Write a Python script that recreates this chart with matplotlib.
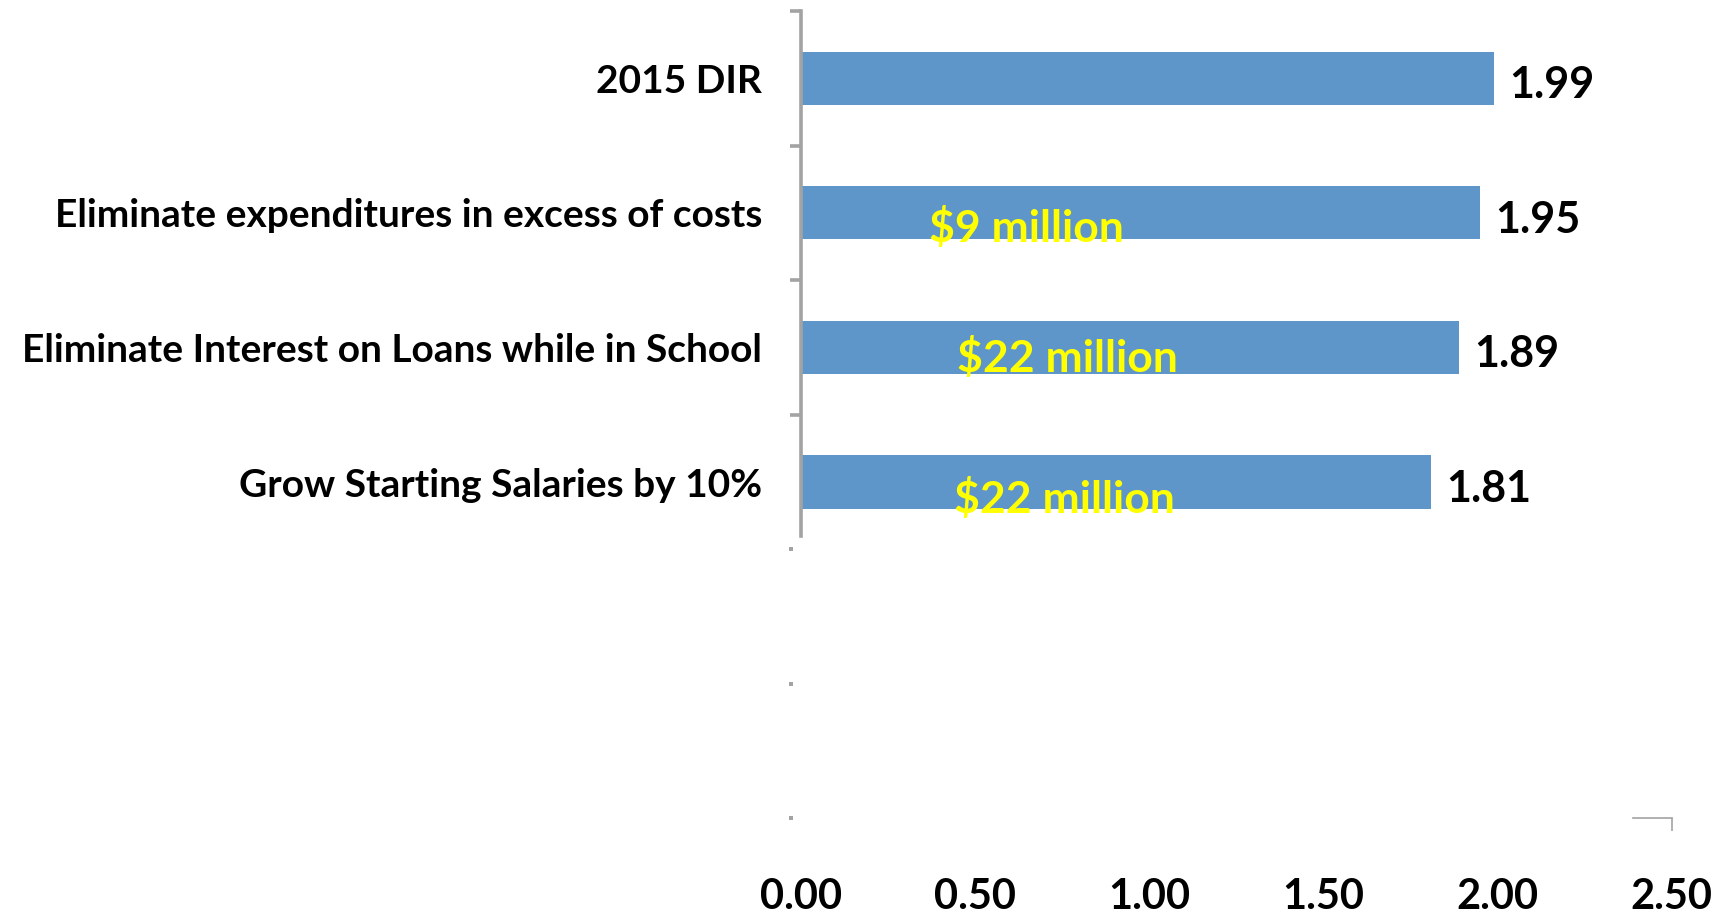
import matplotlib
matplotlib.use("Agg")
import matplotlib.pyplot as plt
from matplotlib.ticker import FixedLocator

# ---- data ----
categories = [
    "2015 DIR",
    "Eliminate expenditures in excess of costs",
    "Eliminate Interest on Loans while in School",
    "Grow Starting Salaries by 10%",
]
values = [1.99, 1.95, 1.89, 1.81]
savings = [None, "$9 million", "$22 million", "$22 million"]
x_ticks = [0.0, 0.5, 1.0, 1.5, 2.0, 2.5]
n_slots = 6  # category slots on the vertical axis (last two empty)

# ---- style ----
plt.rcParams["font.family"] = ["Lato", "DejaVu Sans"]
plt.rcParams["font.weight"] = "bold"
BAR = "#5F96C9"
AXIS_GREY = "#A3A3A3"

fig = plt.figure(figsize=(17.3, 9.14), dpi=100)
ax = fig.add_axes([0.463, 0.1045, 0.5032, 0.8835])

pos = list(range(len(categories)))
ax.barh(pos, values, height=0.395, color=BAR, zorder=2)

ax.set_xlim(0, 2.5)
ax.set_ylim(n_slots - 0.5, -0.5)

# spines
for s in ("top", "right"):
    ax.spines[s].set_visible(False)
ax.spines["left"].set_color(AXIS_GREY)
ax.spines["left"].set_linewidth(2.6)
ax.spines["left"].set_bounds(-0.5, 3.4)
ax.spines["bottom"].set_color(AXIS_GREY)
ax.spines["bottom"].set_linewidth(1.2)
ax.spines["bottom"].set_bounds(2.39, 2.5)

# y axis: labels at category centres, tick marks at slot boundaries
ax.set_yticks(pos)
ax.set_yticklabels(categories, fontsize=28, fontweight="bold")
ax.tick_params(axis="y", which="major", length=0, pad=28)
ax.yaxis.set_minor_locator(FixedLocator([-0.5, 0.5, 1.5, 2.5]))
ax.tick_params(axis="y", which="minor", length=8, width=2.6,
               color=AXIS_GREY, direction="out")

# faint stub marks on the remaining slot boundaries
stub_tr = ax.get_yaxis_transform()
ax.plot([-0.0118] * 3, [3.5, 4.5, 5.5], linestyle="none", marker="s",
        markersize=2.3, color=AXIS_GREY, markeredgewidth=0,
        transform=stub_tr, clip_on=False)

# x axis
ax.set_xticks(x_ticks)
ax.set_xticklabels([f"{t:.2f}" for t in x_ticks], fontsize=30,
                   fontweight="bold")
ax.tick_params(axis="x", which="major", length=0, pad=43)
ax.xaxis.remove_overlapping_locs = False
ax.xaxis.set_minor_locator(FixedLocator([2.5]))
ax.tick_params(axis="x", which="minor", length=9.5, width=1.2,
               color=AXIS_GREY, direction="out")

# value labels at bar ends
for i, v in enumerate(values):
    ax.annotate(f"{v:.2f}", xy=(v, i), xytext=(11, -5),
                textcoords="offset points", ha="left", va="center",
                fontsize=31, fontweight="bold", color="black")

# savings annotations inside bars
saving_xy = [None, (0.368, 1.216), (0.448, 2.182), (0.439, 3.23)]
for lab, xy in zip(savings, saving_xy):
    if lab is None:
        continue
    ax.text(xy[0], xy[1], lab, ha="left", va="baseline", fontsize=32,
            fontweight="bold", color="#FFFF00", parse_math=False, zorder=3)

fig.savefig("out.png", dpi=100)
